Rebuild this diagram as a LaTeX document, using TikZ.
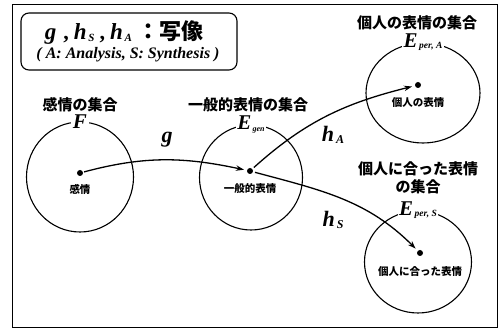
\documentclass[tikz,border=0pt]{standalone}
\usepackage{fontspec}
\setmainfont{Liberation Serif}
\newfontfamily\jpfont{Noto Sans CJK JP}
\usepackage{tikz}
\usetikzlibrary{arrows.meta,positioning,shapes.geometric}

% letter with a lowered index, as in E_{gen}: {size}{letter}{index size}{index}
\newcommand{\subname}[4]{{\fontsize{#1}{#1}\selectfont\bfseries\itshape #2}\raisebox{-0.3ex}{\fontsize{#3}{#3}\selectfont\bfseries\itshape\,#4}}

\begin{document}
\begin{tikzpicture}[
    x=1pt, y=1pt,
    set_circle/.style={ellipse, draw, line width=1.1pt, inner sep=0pt},
    set_name/.style={fill=white, inner sep=1.5pt},
    set_title/.style={font=\jpfont\bfseries\fontsize{15}{18}\selectfont, align=center, inner sep=0pt},
    elem/.style={circle, fill, inner sep=0pt, minimum size=6pt},
    elem_label/.style={font=\jpfont\bfseries\fontsize{10.5}{12}\selectfont, inner sep=0pt},
    map_label/.style={inner sep=0pt},
    maparrow/.style={-{Stealth[length=8pt,width=5.5pt]}, line width=1.3pt}
]
\useasboundingbox (0,0) rectangle (499,-328);

% outer frame
\draw[line width=0.8pt] (12,-4) rectangle (497,-327);

% Legend
\node[draw, rounded corners=8pt, line width=1.1pt, minimum width=216pt, minimum height=57pt] (legend) at (129,-41.5) {};
\node[map_label] (legend_top) at (124,-33) {\subname{23}{g}{11}{}\ \ {\fontsize{22}{22}\selectfont\bfseries ,}\ \ \subname{23}{h}{11}{S}\ \ {\fontsize{22}{22}\selectfont\bfseries ,}\ \ \subname{23}{h}{11}{A}\ \ {\jpfont\bfseries\fontsize{22}{22}\selectfont ：写像}};
\node[map_label] (legend_sub) at (128,-55) {\fontsize{16}{16}\selectfont\bfseries\itshape ( A: Analysis, S: Synthesis )};

% Set F
\node[set_circle, minimum width=107pt, minimum height=110pt] (cF) at (80,-177) {};
\node[set_name] (nF) at (cF.north) {\fontsize{21}{21}\selectfont\bfseries\itshape F};
\node[set_title] (tF) at (80,-105) {感情の集合};
\node[elem] (dF) at (80,-173) {};
\node[elem_label, below=8pt of dF] (lF) {感情};

% Set E_gen
\node[set_circle, minimum width=103pt, minimum height=105pt] (cGen) at (251,-177.5) {};
\node[set_name] (nGen) at (cGen.north) {\subname{21}{E}{8}{gen}};
\node[set_title] (tGen) at (248,-105) {一般的表情の集合};
\node[elem] (dGen) at (250,-171) {};
\node[elem_label, below=9pt of dGen] (lGen) {一般的表情};

% Set E_per,A
\node[set_circle, minimum width=114pt, minimum height=100pt] (cPerA) at (423,-93) {};
\node[set_name] (nPerA) at (cPerA.north) {\subname{21}{E}{9.5}{per, A}};
\node[set_title] (tPerA) at (417,-23) {個人の表情の集合};
\node[elem] (dPerA) at (418,-85) {};
\node[elem_label, below=9pt of dPerA] (lPerA) {個人の表情};

% Set E_per,S
\node[set_circle, minimum width=107pt, minimum height=102pt] (cPerS) at (418,-262) {};
\node[set_name] (nPerS) at (cPerS.north) {\subname{21}{E}{9.5}{per, S}};
\node[set_title] (tPerS) at (418,-178) {個人に合った表情\\の集合};
\node[elem] (dPerS) at (420,-253) {};
\node[elem_label, below=10pt of dPerS] (lPerS) {個人に合った表情};

% Maps
\node[map_label] (mg) at (168,-140) {\subname{22}{g}{12}{}};
\node[map_label] (mhA) at (333,-135) {\subname{22}{h}{12}{A}};
\node[map_label] (mhS) at (333,-220) {\subname{22}{h}{12}{S}};

\draw[maparrow, shorten <=1pt, shorten >=3pt] (dF) to[out=15, in=168] (dGen);
\draw[maparrow, shorten <=2pt, shorten >=3pt] (dGen) to[out=42, in=194] (dPerA);
\draw[maparrow, shorten <=2pt, shorten >=3pt] (dGen) to[out=-15, in=135] (dPerS);

\end{tikzpicture}
\end{document}
